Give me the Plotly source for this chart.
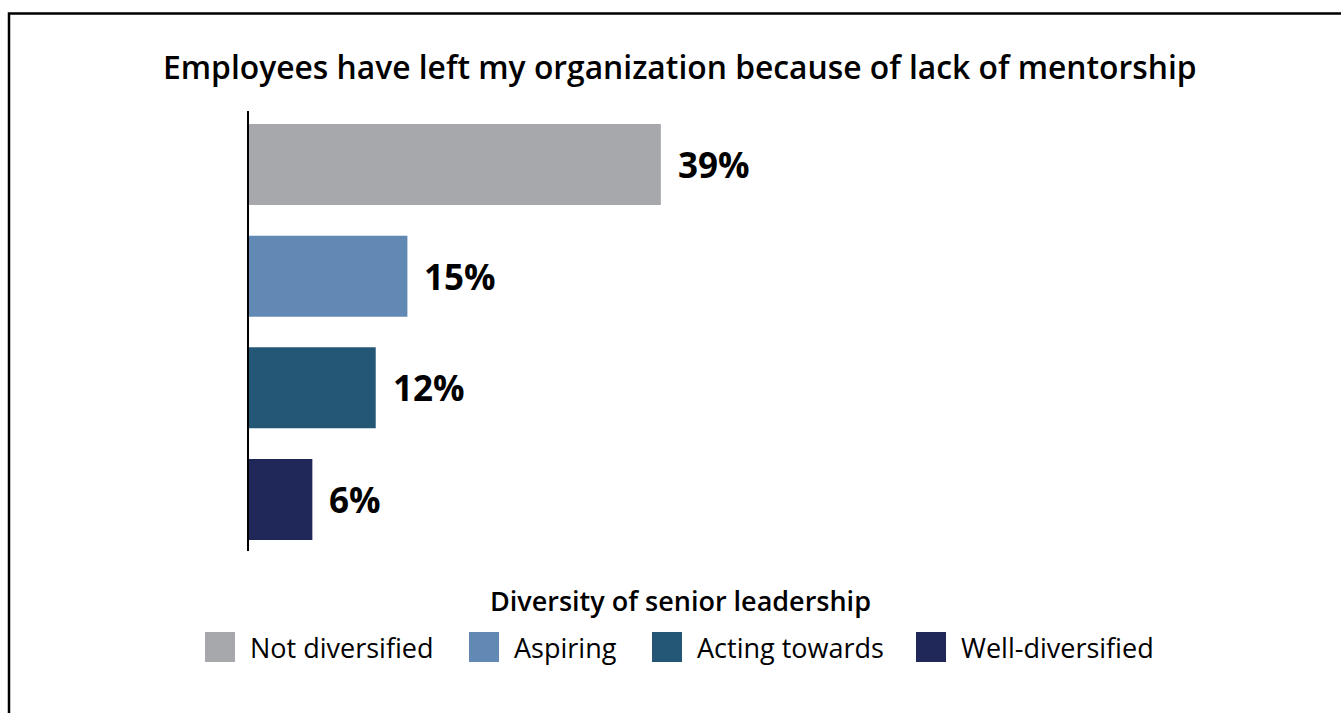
import plotly.graph_objects as go

# Survey result: share of respondents by diversity of senior leadership
categories = ["Not diversified", "Aspiring", "Acting towards", "Well-diversified"]
values = [39, 15, 12, 6]
colors = ["#A7A8AC", "#6189B4", "#245676", "#20285A"]
value_labels = [f"{v}%" for v in values]

title_text = "Employees have left my organization because of lack of mentorship"
legend_title = "Diversity of senior leadership"

W, H = 1341, 713
L, R, T, B = 249, 41, 111, 162
PW, PH = W - L - R, H - T - B
PX_PER_UNIT = 10.56

FONT = "Open Sans"


def px_x(px):
    return (px - L) / PW


def px_y(py):
    return (H - B - py) / PH


fig = go.Figure(
    go.Bar(
        x=values,
        y=categories,
        orientation="h",
        marker=dict(color=colors, line=dict(width=0)),
        width=0.725,
        showlegend=False,
        hoverinfo="skip",
    )
)

annotations = []
# value labels next to each bar
for cat, v, lab in zip(categories, values, value_labels):
    annotations.append(dict(
        x=v, y=cat, xref="x", yref="y", text=lab, showarrow=False,
        xanchor="left", yanchor="middle", xshift=15,
        font=dict(family=FONT, size=35, color="#000000", weight=700),
    ))

# chart title
annotations.append(dict(
    x=px_x(680), y=px_y(66), xref="paper", yref="paper", text=title_text,
    showarrow=False, xanchor="center", yanchor="middle",
    font=dict(family=FONT, size=31.8, color="#000000", weight=600),
))

# legend title
annotations.append(dict(
    x=px_x(680), y=px_y(600), xref="paper", yref="paper", text=legend_title,
    showarrow=False, xanchor="center", yanchor="middle",
    font=dict(family=FONT, size=27, color="#000000", weight=600),
))

# legend entries: swatch + label
swatch_left = [205, 469, 652, 916]
swatch_size = 30
legend_cy = 647
shapes = []
for cat, col, sx in zip(categories, colors, swatch_left):
    shapes.append(dict(
        type="rect", xref="paper", yref="paper",
        x0=px_x(sx), x1=px_x(sx + swatch_size),
        y0=px_y(legend_cy + swatch_size / 2), y1=px_y(legend_cy - swatch_size / 2),
        fillcolor=col, line=dict(width=0),
    ))
    annotations.append(dict(
        x=px_x(sx + swatch_size + 13), y=px_y(legend_cy), xref="paper", yref="paper",
        text=cat, showarrow=False, xanchor="left", yanchor="middle",
        font=dict(family=FONT, size=27, color="#000000"),
    ))

# outer frame
shapes.append(dict(
    type="rect", xref="paper", yref="paper",
    x0=px_x(9), x1=px_x(W + 20), y0=px_y(H + 20), y1=px_y(13.5),
    line=dict(color="#000000", width=2.5), fillcolor="rgba(0,0,0,0)", layer="below",
))

fig.update_layout(
    width=W, height=H,
    margin=dict(l=L, r=R, t=T, b=B, pad=0),
    paper_bgcolor="white", plot_bgcolor="white",
    bargap=0.275,
    xaxis=dict(range=[0, PW / PX_PER_UNIT], visible=False, fixedrange=True),
    yaxis=dict(
        categoryorder="array", categoryarray=categories,
        range=[3.461, -0.479],
        showticklabels=False, ticks="", showgrid=False, zeroline=False,
        showline=True, linecolor="#000000", linewidth=1.5, fixedrange=True,
    ),
    annotations=annotations,
    shapes=shapes,
    font=dict(family=FONT),
)

fig.write_html("out.html", config={"displayModeBar": False})
